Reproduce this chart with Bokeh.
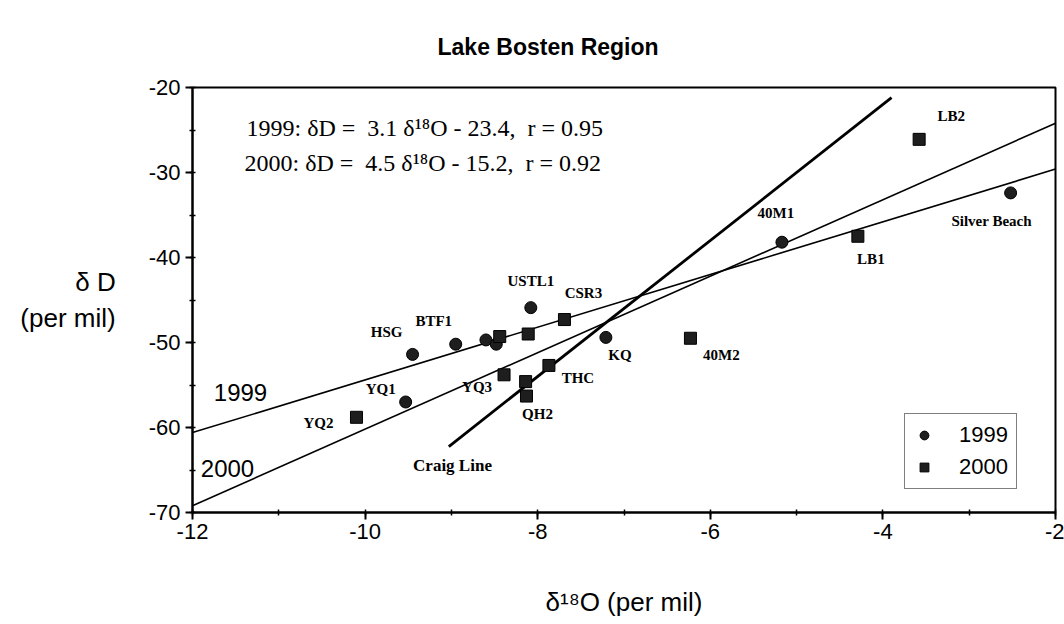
from bokeh.plotting import figure
from bokeh.models import Label, Legend, LegendItem, FixedTicker, ColumnDataSource
from bokeh.embed import file_html
from bokeh.resources import INLINE
from bokeh.core.properties import value

# ---------------- data ----------------
names_1999 = ["HSG", "BTF1", "", "", "USTL1", "KQ", "YQ1", "40M1", "Silver Beach"]
d18o_1999 = [-9.45, -8.95, -8.60, -8.48, -8.08, -7.21, -9.53, -5.17, -2.52]
dD_1999 = [-51.4, -50.2, -49.7, -50.2, -45.9, -49.4, -57.0, -38.2, -32.4]

names_2000 = ["YQ2", "", "", "CSR3", "YQ3", "", "QH2", "THC", "40M2", "LB1", "LB2"]
d18o_2000 = [-10.10, -8.44, -8.11, -7.69, -8.39, -8.14, -8.13, -7.87, -6.23, -4.29, -3.58]
dD_2000 = [-58.8, -49.3, -49.0, -47.3, -53.8, -54.6, -56.3, -52.7, -49.5, -37.5, -26.1]

fit_1999 = {"slope": 3.1, "intercept": -23.4, "r": 0.95}
fit_2000 = {"slope": 4.5, "intercept": -15.2, "r": 0.92}
craig = {"slope": 8.0, "intercept": 10.0, "x_start": -9.03, "x_end": -3.9}

x_ticks = [-12, -10, -8, -6, -4, -2]
y_ticks = [-70, -60, -50, -40, -30, -20]

# ---------------- layout ----------------
W, H = 1064, 624
LEFT, RIGHT, TOP, BOTTOM = 192, 9, 87, 112
X0, X1, Y0, Y1 = -12, -2, -70, -20
FW, FH = W - LEFT - RIGHT, H - TOP - BOTTOM
KX, KY = FW / (X1 - X0), FH / (Y1 - Y0)


def sx(px):
    return X0 + (px - LEFT) / KX


def sy(py):
    return Y1 - (py - TOP) / KY


# label offsets (pixels, dx right, dy down) relative to each point
label_offsets = {
    "HSG": (-26, -22), "BTF1": (-22, -23), "USTL1": (0, -27), "KQ": (14, 18),
    "YQ1": (-25, -13), "40M1": (-6, -29), "Silver Beach": (-19, 28),
    "YQ2": (-38, 6), "CSR3": (19, -27), "YQ3": (-27, 12), "QH2": (11, 18),
    "THC": (29, 13), "40M2": (31, 17), "LB1": (13, 23), "LB2": (32, -23),
}

p = figure(width=W, height=H, x_range=(X0, X1), y_range=(Y0, Y1),
           output_backend="svg", toolbar_location=None,
           min_border_left=LEFT, min_border_right=RIGHT,
           min_border_top=TOP, min_border_bottom=BOTTOM,
           title="Lake Bosten Region")
p.title.text_font = "Liberation Sans"
p.title.text_font_size = "23px"
p.title.text_font_style = "bold"
p.title.text_color = "black"
p.title.align = "left"
p.title.offset = 245
p.title.standoff = 56

p.xgrid.visible = False
p.ygrid.visible = False
p.outline_line_color = "black"
p.outline_line_width = 2
p.background_fill_color = "white"
p.border_fill_color = "white"

for ax in (p.xaxis[0], p.yaxis[0]):
    ax.axis_line_width = 2
    ax.major_tick_line_width = 2
    ax.major_tick_out = 7
    ax.major_tick_in = 0
    ax.minor_tick_out = 3
    ax.minor_tick_in = 3
    ax.minor_tick_line_width = 1.5
    ax.major_label_text_font = "Liberation Sans"
    ax.major_label_text_font_size = "22px"
    ax.major_label_text_color = "black"
    ax.axis_label_text_font = "Liberation Sans"
    ax.axis_label_text_font_style = "normal"
    ax.axis_label_text_color = "black"
p.xaxis.ticker = FixedTicker(ticks=x_ticks, minor_ticks=list(range(-12, -1)))
p.yaxis.ticker = FixedTicker(ticks=y_ticks, minor_ticks=list(range(-70, -19, 5)))
p.xaxis.major_label_overrides = {t: str(t) for t in x_ticks}
p.yaxis.major_label_overrides = {t: str(t) for t in y_ticks}
p.xaxis.major_label_standoff = 4
p.yaxis.major_label_standoff = 5

p.xaxis.axis_label = "\u03b4\u00b9\u2078O (per mil)"
p.xaxis.axis_label_text_font_size = "26px"
p.xaxis.axis_label_standoff = 45

p.yaxis.axis_label = "\u03b4 D\n(per mil)"
p.yaxis.axis_label_orientation = "horizontal"
p.yaxis.axis_label_text_font_size = "26px"
p.yaxis.axis_label_standoff = 30

# lines
for fit in (fit_1999, fit_2000):
    xs = [X0, X1]
    ys = [fit["slope"] * x + fit["intercept"] for x in xs]
    p.line(xs, ys, line_color="black", line_width=1.6)
cx = [craig["x_start"], craig["x_end"]]
cy = [craig["slope"] * x + craig["intercept"] for x in cx]
p.line(cx, cy, line_color="black", line_width=2.8)

# points
src99 = ColumnDataSource(dict(x=d18o_1999, y=dD_1999))
src00 = ColumnDataSource(dict(x=d18o_2000, y=dD_2000))
r99 = p.scatter("x", "y", source=src99, marker="circle", size=12,
                fill_color="#1e1e1e", line_color="black", line_width=1)
r00 = p.scatter("x", "y", source=src00, marker="square", size=12,
                fill_color="#1e1e1e", line_color="black", line_width=1)

# point labels
lx, ly, lt = [], [], []
for names, xs, ys in ((names_1999, d18o_1999, dD_1999), (names_2000, d18o_2000, dD_2000)):
    for n, x, y in zip(names, xs, ys):
        if not n:
            continue
        ox, oy = label_offsets[n]
        lx.append(x + ox / KX)
        ly.append(y - oy / KY)
        lt.append(n)
p.text(x=lx, y=ly, text=lt, text_font=value("Liberation Serif"), text_font_style="bold",
       text_font_size="15px", text_align="center", text_baseline="middle", text_color="black")


def add_label(px, py, text, font, size, style="normal", align="center"):
    p.add_layout(Label(x=sx(px), y=sy(py), text=text, text_font=font, text_font_size=size,
                       text_font_style=style, text_align=align, text_baseline="middle",
                       text_color="black"))


NB = "\u00a0"
eq1 = (f"1999: \u03b4D ={NB} {fit_1999['slope']} \u03b4\u00b9\u2078O - {-fit_1999['intercept']},"
       f"{NB} r = {fit_1999['r']}")
eq2 = (f"2000: \u03b4D ={NB} {fit_2000['slope']} \u03b4\u00b9\u2078O - {-fit_2000['intercept']},"
       f"{NB} r = {fit_2000['r']}")
add_label(246, 127, eq1, "Liberation Serif", "24px", align="left")
add_label(244, 162, eq2, "Liberation Serif", "24px", align="left")

# line labels
add_label(240, 392, "1999", "Liberation Sans", "24px")
add_label(227, 468, "2000", "Liberation Sans", "24px")
add_label(452, 465, "Craig Line", "Liberation Serif", "17px", style="bold")

legend = Legend(items=[LegendItem(label="1999", renderers=[r99]),
                       LegendItem(label="2000", renderers=[r00])],
                location=(712, 23))
legend.border_line_color = "black"
legend.border_line_width = 1.5
legend.background_fill_color = "white"
legend.background_fill_alpha = 1
legend.label_text_font = "Liberation Sans"
legend.label_text_font_size = "22px"
legend.label_text_color = "black"
legend.padding = 8
legend.spacing = 6
legend.glyph_height = 22
legend.glyph_width = 22
legend.label_height = 22
legend.label_standoff = 24
legend.margin = 0
p.add_layout(legend)

open("out.html", "w").write(file_html(p, INLINE))
